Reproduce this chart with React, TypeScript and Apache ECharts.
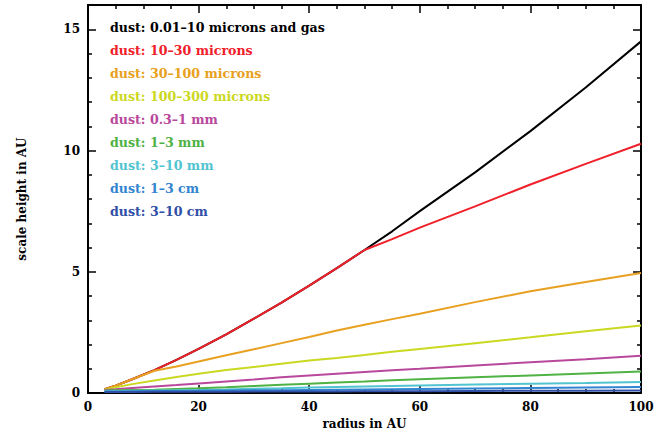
import React, { useEffect, useRef } from "react";
import * as echarts from "echarts";

const radius = [3, 5, 8, 12, 16, 20, 25, 30, 35, 40, 45, 50, 55, 60, 70, 80, 90, 100];

const gasSmall = [0.16, 0.31, 0.57, 0.95, 1.37, 1.82, 2.42, 3.07, 3.73, 4.43, 5.15, 5.9, 6.67, 7.5, 9.1, 10.8, 12.6, 14.5];
const d10to30 = [0.16, 0.31, 0.57, 0.95, 1.37, 1.82, 2.42, 3.07, 3.73, 4.43, 5.15, 5.9, 6.35, 6.82, 7.7, 8.6, 9.45, 10.28];
const d30to100 = [0.16, 0.31, 0.57, 0.92, 1.1, 1.3, 1.56, 1.81, 2.06, 2.31, 2.58, 2.82, 3.05, 3.27, 3.75, 4.2, 4.58, 4.95];
const d100to300 = [0.14, 0.24, 0.37, 0.52, 0.66, 0.8, 0.95, 1.08, 1.21, 1.34, 1.45, 1.57, 1.7, 1.82, 2.06, 2.3, 2.55, 2.79];
const d03to1mm = [0.13, 0.16, 0.21, 0.27, 0.33, 0.4, 0.48, 0.56, 0.65, 0.73, 0.8, 0.87, 0.94, 1.0, 1.14, 1.27, 1.4, 1.54];
const d1to3mm = [0.11, 0.12, 0.13, 0.14, 0.17, 0.2, 0.24, 0.29, 0.34, 0.39, 0.44, 0.48, 0.53, 0.57, 0.65, 0.73, 0.81, 0.89];
const d3to10mm = [0.09, 0.09, 0.1, 0.11, 0.12, 0.13, 0.15, 0.18, 0.2, 0.23, 0.25, 0.27, 0.29, 0.31, 0.35, 0.39, 0.42, 0.46];
const d1to3cm = [0.07, 0.07, 0.08, 0.09, 0.09, 0.1, 0.11, 0.12, 0.12, 0.13, 0.14, 0.15, 0.16, 0.17, 0.19, 0.21, 0.23, 0.25];
const d3to10cm = [0.05, 0.05, 0.05, 0.06, 0.06, 0.06, 0.06, 0.07, 0.07, 0.07, 0.07, 0.08, 0.08, 0.08, 0.09, 0.1, 0.1, 0.11];

const seriesNames = [
  "dust: 0.01\u201310 microns and gas",
  "dust: 10\u201330 microns",
  "dust: 30\u2013100 microns",
  "dust: 100\u2013300 microns",
  "dust: 0.3\u20131 mm",
  "dust: 1\u20133 mm",
  "dust: 3\u201310 mm",
  "dust: 1\u20133 cm",
  "dust: 3\u201310 cm",
];
const seriesValues = [gasSmall, d10to30, d30to100, d100to300, d03to1mm, d1to3mm, d3to10mm, d1to3cm, d3to10cm];
const seriesColors = ["#000000", "#f0202a", "#e8a020", "#cbd821", "#b8489c", "#4fb244", "#52c3d0", "#3284d0", "#2f4ea6"];

const xTicks = [0, 20, 40, 60, 80, 100];
const yTicks = [0, 5, 10, 15];

const FONT = "DejaVu Serif";

export default function App() {
  const ref = useRef<HTMLDivElement>(null);
  useEffect(() => {
    if (!ref.current) return;
    document.body.style.margin = "0";
    const chart = echarts.init(ref.current, null, { renderer: "svg" });
    const axisCommon = {
      type: "value" as const,
      axisLine: { show: true, onZero: false, lineStyle: { color: "#000", width: 2 } },
      axisTick: { show: true, inside: true, length: 8, lineStyle: { color: "#000", width: 1.5 } },
      minorTick: { show: true, length: 4, lineStyle: { color: "#000", width: 1.5 } },
      splitLine: { show: false },
    };
    const labelStyle = { color: "#000", fontFamily: FONT, fontWeight: "bold" as const, fontSize: 12 };
    chart.setOption({
      animation: false,
      backgroundColor: "#fff",
      grid: { left: 88, right: 24, top: 5, bottom: 39, containLabel: false },
      xAxis: [
        {
          ...axisCommon,
          min: 0, max: 100, interval: 20,
          minorTick: { ...axisCommon.minorTick, splitNumber: 4 },
          position: "bottom",
          axisLabel: { ...labelStyle, margin: 8, customValues: xTicks },
          name: "radius in AU",
          nameLocation: "middle",
          nameGap: 20,
          nameTextStyle: { ...labelStyle },
        },
        {
          ...axisCommon,
          min: 0, max: 100, interval: 20,
          minorTick: { ...axisCommon.minorTick, splitNumber: 4 },
          position: "top",
          axisLabel: { show: false },
        },
      ],
      yAxis: [
        {
          ...axisCommon,
          min: 0, max: 16, interval: 5,
          minorTick: { ...axisCommon.minorTick, splitNumber: 5 },
          position: "left",
          axisLabel: { ...labelStyle, margin: 8, customValues: yTicks },
          name: "scale height in AU",
          nameLocation: "middle",
          nameGap: 60,
          nameTextStyle: { ...labelStyle },
        },
        {
          ...axisCommon,
          min: 0, max: 16, interval: 5,
          minorTick: { ...axisCommon.minorTick, splitNumber: 5 },
          position: "right",
          axisLabel: { show: false },
        },
      ],
      series: seriesNames.map((name, i) => ({
        name,
        type: "line",
        xAxisIndex: 0,
        yAxisIndex: 0,
        showSymbol: false,
        symbol: "none",
        lineStyle: { color: seriesColors[i], width: 2 },
        itemStyle: { color: seriesColors[i] },
        data: radius.map((r, j) => [r, seriesValues[i][j]]),
        z: 2 + i,
      })),
      graphic: seriesNames.map((name, i) => ({
        type: "text",
        left: 110,
        top: 21 + i * 23,
        style: {
          text: name,
          fill: seriesColors[i],
          font: `bold 12.6px "${FONT}"`,
        },
      })),
    });
    return () => chart.dispose();
  }, []);
  return <div ref={ref} style={{ width: 665, height: 435 }} />;
}
